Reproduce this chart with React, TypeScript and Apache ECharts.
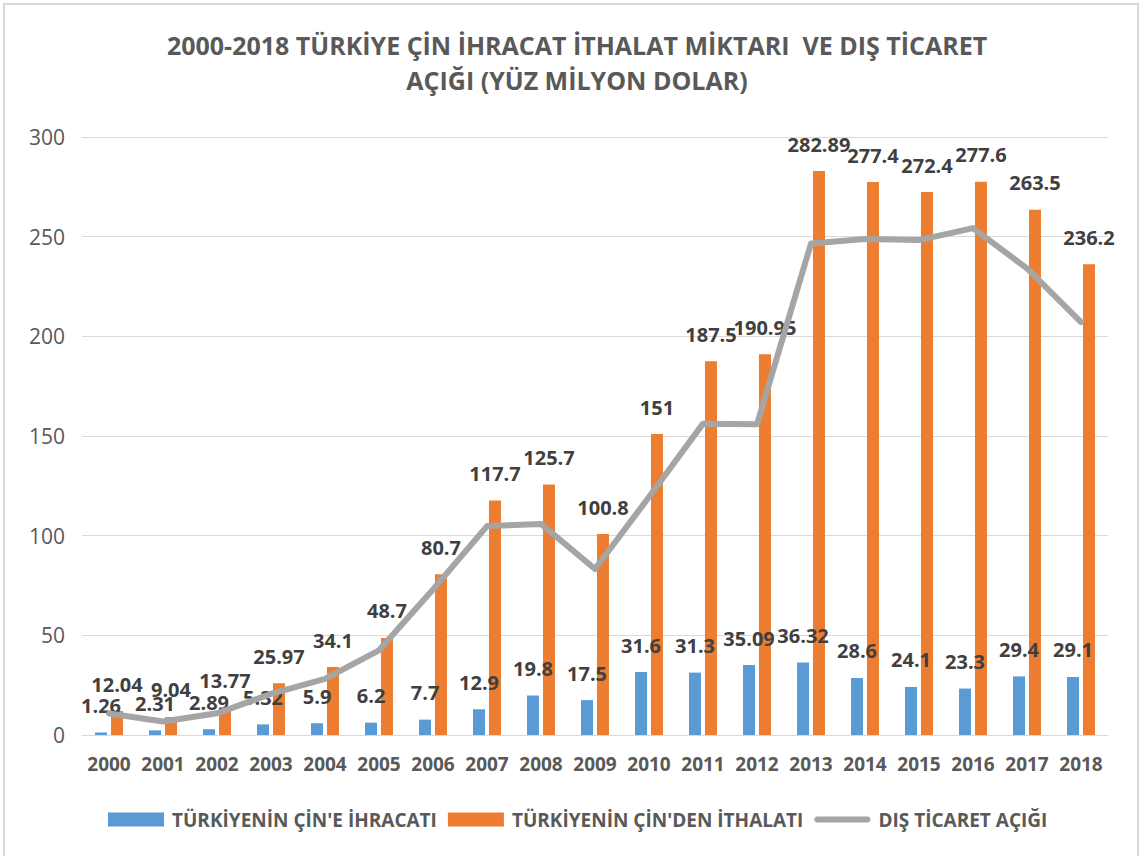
import React, { useEffect, useRef } from "react";
import * as echarts from "echarts";

const years = ["2000","2001","2002","2003","2004","2005","2006","2007","2008","2009","2010","2011","2012","2013","2014","2015","2016","2017","2018"];
const exports_ = [1.26, 2.31, 2.89, 5.32, 5.9, 6.2, 7.7, 12.9, 19.8, 17.5, 31.6, 31.3, 35.09, 36.32, 28.6, 24.1, 23.3, 29.4, 29.1];
const imports_ = [12.04, 9.04, 13.77, 25.97, 34.1, 48.7, 80.7, 117.7, 125.7, 100.8, 151, 187.5, 190.95, 282.89, 277.4, 272.4, 277.6, 263.5, 236.2];
const deficit = [10.78, 6.73, 10.88, 20.65, 28.2, 42.5, 73.0, 104.8, 105.9, 83.3, 119.4, 156.2, 155.86, 246.57, 248.8, 248.3, 254.3, 234.1, 207.1];
const seriesNames = ["TÜRKİYENİN ÇİN'E İHRACATI", "TÜRKİYENİN ÇİN'DEN İTHALATI", "DIŞ TİCARET AÇIĞI"];
const titleText = "2000-2018 TÜRKİYE ÇİN İHRACAT İTHALAT MİKTARI  VE DIŞ TİCARET\nAÇIĞI (YÜZ MİLYON DOLAR)";

const FONT = "'Open Sans', 'Noto Sans', sans-serif";

export default function App() {
  const ref = useRef<HTMLDivElement>(null);
  useEffect(() => {
    if (!ref.current) return;
    const chart = echarts.init(ref.current, null, { renderer: "svg" });
    const labelStyle = {
      show: true,
      position: "top" as const,
      distance: 17,
      fontSize: 20,
      fontWeight: "bold" as const,
      color: "#404040",
      fontFamily: FONT,
    };
    chart.setOption({
      animation: false,
      backgroundColor: "#ffffff",
      textStyle: { fontFamily: FONT },
      title: {
        text: titleText,
        left: 572,
        textAlign: "center",
        top: 22,
        textStyle: {
          fontSize: 25,
          fontWeight: "bold",
          color: "#595959",
          lineHeight: 35,
          fontFamily: FONT,
        },
      },
      graphic: [
        {
          type: "rect",
          shape: { x: 4, y: 4, width: 1134, height: 870 },
          style: { fill: "none", stroke: "#D9D9D9", lineWidth: 2 },
          silent: true,
        },
      ],
      legend: {
        bottom: 22,
        left: 103,
        itemWidth: 56,
        itemHeight: 14,
        itemGap: 11,
        textStyle: {
          fontSize: 19,
          fontWeight: "bold",
          color: "#595959",
          fontFamily: FONT,
          padding: [0, 0, 0, 3],
        },
        data: [
          { name: seriesNames[0], icon: "rect" },
          { name: seriesNames[1], icon: "rect" },
          { name: seriesNames[2], icon: "path://M3,0 L53,0 A3,3 0 0 1 53,6 L3,6 A3,3 0 0 1 3,0 Z" },
        ],
      },
      grid: { left: 82, right: 32, top: 137, bottom: 121, containLabel: false },
      xAxis: {
        type: "category",
        data: years,
        axisLine: { show: true, lineStyle: { color: "#D9D9D9", width: 1 } },
        axisTick: { show: false },
        axisLabel: {
          interval: 0,
          hideOverlap: false,
          fontSize: 19,
          fontWeight: "bold",
          color: "#595959",
          margin: 19,
          fontFamily: FONT,
        },
      },
      yAxis: {
        type: "value",
        min: 0,
        max: 300,
        interval: 50,
        axisLine: { show: false },
        axisTick: { show: false },
        splitLine: { lineStyle: { color: "#D9D9D9", width: 1 } },
        axisLabel: { fontSize: 21, color: "#595959", margin: 17, fontFamily: FONT },
      },
      series: [
        {
          name: seriesNames[0],
          type: "bar",
          data: exports_,
          barWidth: 12,
          barGap: "33%",
          itemStyle: { color: "#5B9BD5" },
          label: labelStyle,
          z: 2,
        },
        {
          name: seriesNames[1],
          type: "bar",
          data: imports_,
          barWidth: 12,
          itemStyle: { color: "#ED7D31" },
          label: labelStyle,
          z: 2,
        },
        {
          name: seriesNames[2],
          type: "line",
          data: deficit,
          symbol: "none",
          lineStyle: { color: "#A5A5A5", width: 6, join: "round", cap: "round" },
          itemStyle: { color: "#A5A5A5" },
          z: 3,
        },
      ],
    });
    return () => chart.dispose();
  }, []);
  return (
    <div
      ref={ref}
      style={{ position: "fixed", left: 0, top: 0, width: 1140, height: 856 }}
    />
  );
}
